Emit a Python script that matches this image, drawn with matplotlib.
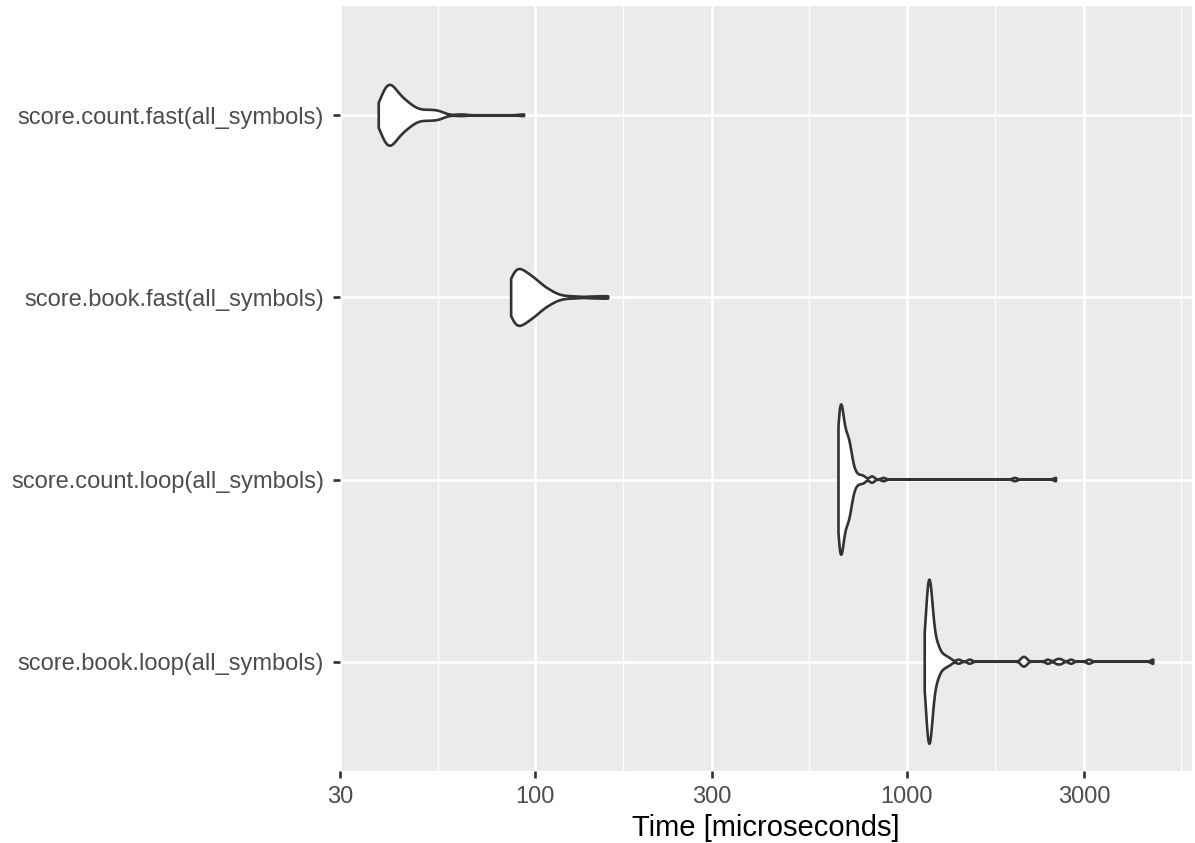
import numpy as np
import matplotlib
matplotlib.use("Agg")
import matplotlib.pyplot as plt
from matplotlib.ticker import NullLocator

plt.rcParams['font.family'] = ['Liberation Sans', 'DejaVu Sans']

# benchmark timings in microseconds, stored as value + number of runs with that value
count_fast_us = [38.06, 38.53, 39.01, 39.74, 40.49, 41.25, 42.02, 42.81, 43.61, 44.43, 45.26,
                 46.11, 46.97, 47.85, 49.05, 50.28, 51.53, 52.82, 54.14, 55.49, 56.89, 63.4, 93.6]
count_fast_n = [2, 3, 6, 9, 11, 9, 8, 6, 5, 5, 4, 3, 3, 2, 2, 2, 2, 2, 2, 2, 1, 1, 1]

book_fast_us = [86.4, 88.0, 89.7, 91.3, 93.1, 94.8, 96.7, 98.4, 100.3, 102.1, 104.0, 106.0,
                108.1, 110.1, 112.1, 114.2, 117.8, 122.3, 129.3, 141.9, 151.0, 157.6]
book_fast_n = [8, 10, 10, 9, 8, 8, 7, 6, 6, 5, 4, 3, 3, 2, 2, 1, 1, 1, 1, 1, 1, 1]

count_loop_us = [655.7, 659.8, 663.9, 668.0, 672.2, 676.4, 680.6, 684.8, 689.1, 693.4, 697.7,
                 702.1, 706.4, 710.8, 715.3, 719.7, 724.2, 728.7, 733.3, 742.4, 751.7, 761.1,
                 770.6, 804.8, 809.8, 867.0, 1954.7, 2521.2]
count_loop_n = [10, 10, 10, 10, 9, 6, 5, 5, 5, 5, 5, 5, 4, 3, 2, 1, 1, 1, 1, 1, 1, 1, 1, 1, 1, 1,
                1, 1]

book_loop_us = [1118.3, 1125.2, 1132.2, 1139.3, 1146.4, 1153.5, 1160.7, 1167.9, 1175.2, 1182.5,
                1189.9, 1197.3, 1204.7, 1212.2, 1219.8, 1227.4, 1235.0, 1250.5, 1258.3, 1274.0,
                1289.9, 1314.1, 1380.9, 1478.6, 2041.7, 2067.2, 2093.0, 2399.2, 2536.9, 2600.6,
                2767.9, 3094.3, 4603.6]
book_loop_n = [1, 3, 6, 8, 9, 9, 8, 6, 4, 3, 2, 2, 2, 1, 2, 1, 1, 1, 1, 1, 1, 1,
               1, 1, 1, 1, 1, 1, 1, 1, 1, 1, 1]

labels = ['score.book.loop(all_symbols)', 'score.count.loop(all_symbols)',
          'score.book.fast(all_symbols)', 'score.count.fast(all_symbols)']
samples = [np.repeat(book_loop_us, book_loop_n), np.repeat(count_loop_us, count_loop_n),
           np.repeat(book_fast_us, book_fast_n), np.repeat(count_fast_us, count_fast_n)]


def nrd0(x):
    iqr = np.subtract(*np.percentile(x, [75, 25]))
    return 0.9 * min(np.std(x, ddof=1), iqr / 1.34) * len(x) ** -0.2


def kde(x):
    # density on log10 scale, trimmed to the data range (like geom_violin)
    grid = np.linspace(x.min(), x.max(), 512)
    bw = nrd0(x)
    z = (grid[:, None] - x[None, :]) / bw
    d = np.exp(-0.5 * z ** 2).sum(1) / (len(x) * bw * np.sqrt(2 * np.pi))
    return grid, d


dens = [kde(np.log10(s)) for s in samples]
dmax = max(d.max() for _, d in dens)

fig = plt.figure(figsize=(11.95, 8.43), dpi=100)
ax = fig.add_axes([340 / 1195, 1 - 771 / 843, 852 / 1195, 765 / 843])
ax.set_facecolor('#EBEBEB')
for s in ax.spines.values():
    s.set_visible(False)

ax.set_xscale('log')
lo = min(np.log10(s).min() for s in samples)
hi = max(np.log10(s).max() for s in samples)
pad = 0.05 * (hi - lo)
ax.set_xlim(10 ** (lo - pad), 10 ** (hi + pad))
ax.set_ylim(0.4, 4.6)

major = [30, 100, 300, 1000, 3000]
minor = [54.77, 173.2, 547.7, 1732.1, 5477.2]
for m in minor:
    ax.axvline(m, color='white', lw=0.95, zorder=0.5)
for m in major:
    ax.axvline(m, color='white', lw=1.9, zorder=0.6)
for i in range(len(labels)):
    ax.axhline(i + 1, color='white', lw=1.9, zorder=0.6)

for i, (g, d) in enumerate(dens):
    w = 0.45 * d / dmax
    xs = 10 ** np.concatenate([g, g[::-1]])
    ys = np.concatenate([i + 1 + w, (i + 1 - w)[::-1]])
    ax.fill(xs, ys, facecolor='white', edgecolor='#333333', lw=1.9, joinstyle='round', zorder=2)

ax.set_xticks(major)
ax.set_xticklabels([str(m) for m in major])
ax.xaxis.set_minor_locator(NullLocator())
ax.set_yticks(range(1, len(labels) + 1))
ax.set_yticklabels(labels)
ax.tick_params(axis='both', length=5, width=1.9, color='#333333', labelcolor='#4D4D4D',
               labelsize=17)
ax.tick_params(axis='y', pad=6.5)
ax.tick_params(axis='x', pad=6)
ax.set_xlabel('Time [microseconds]', fontsize=21, color='black', labelpad=4)

fig.savefig('out.png', dpi=100)
